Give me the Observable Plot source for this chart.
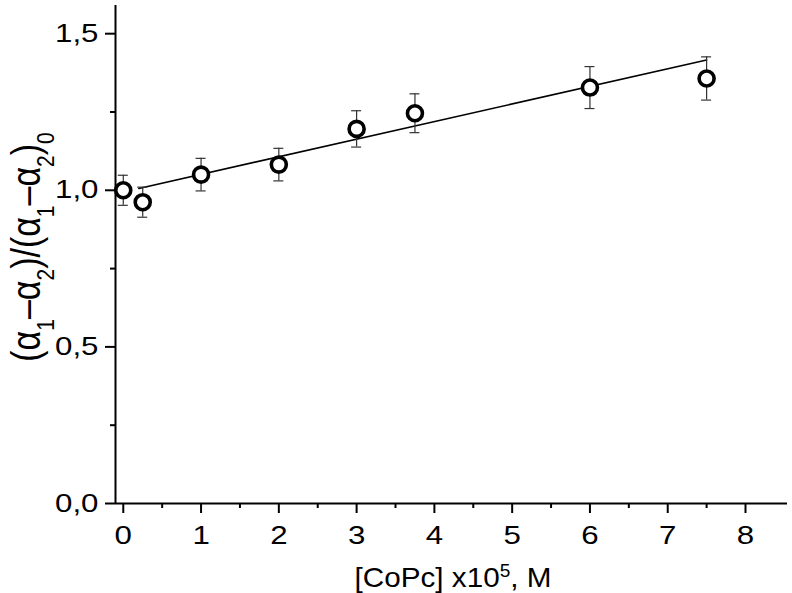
<!DOCTYPE html>
<html>
<head>
<meta charset="utf-8">
<script src="https://cdn.jsdelivr.net/npm/d3@7"></script>
<script src="https://cdn.jsdelivr.net/npm/@observablehq/plot@0.6"></script>
<style>
  html, body { margin: 0; padding: 0; background: #fff; }
  #chart svg { display: block; }
</style>
</head>
<body>
<div id="chart"></div>
<script>
// Data
const conc = [0, 0.25, 1, 2, 3, 3.75, 6, 7.5];           // [CoPc] x10^5, M
const ratio = [1.0, 0.962, 1.05, 1.082, 1.196, 1.246, 1.328, 1.357];
const err = [0.048, 0.048, 0.052, 0.052, 0.058, 0.062, 0.067, 0.069];
const fitX = [0.2, 7.5];
const fitY = [1.006, 1.416];
const xTicks = [0, 1, 2, 3, 4, 5, 6, 7, 8];
const xMinorTicks = [0.5, 1.5, 2.5, 3.5, 4.5, 5.5, 6.5, 7.5];
const yTicks = [0, 0.5, 1.0, 1.5];
const yMinorTicks = [0.25, 0.75, 1.25];

const pts = conc.map((x, i) => ({x, y: ratio[i], lo: ratio[i] - err[i], hi: ratio[i] + err[i]}));
const fit = fitX.map((x, i) => ({x, y: fitY[i]}));

const font = "'Liberation Sans', Arial, sans-serif";
const xDom = [-0.1, 8.54];
const yDom = [0, 1.59];

const plot = Plot.plot({
  width: 792,
  height: 593,
  marginLeft: 115,
  marginRight: 5,
  marginTop: 5,
  marginBottom: 90,
  style: {fontFamily: font, background: "#fff", color: "#000"},
  x: {type: "linear", domain: xDom},
  y: {type: "linear", domain: yDom},
  marks: [
    Plot.axisX(xMinorTicks, {tickSize: 5, strokeWidth: 2, text: null, label: null}),
    Plot.axisX(xTicks, {tickSize: 10, strokeWidth: 2, tickPadding: 13, fontSize: 25, label: null}),
    Plot.axisY(yMinorTicks, {tickSize: 5, strokeWidth: 2, text: null, label: null}),
    Plot.axisY(yTicks, {tickSize: 10, strokeWidth: 2, tickPadding: 7, fontSize: 25, label: null,
      tickFormat: d => d3.format(".1f")(d).replace(".", ",")}),
    Plot.ruleX([xDom[0]], {strokeWidth: 2}),
    Plot.ruleY([0], {strokeWidth: 2}),
    Plot.line(fit, {x: "x", y: "y", stroke: "#000", strokeWidth: 1.6}),
    Plot.ruleX(pts, {x: "x", y1: "lo", y2: "hi", stroke: "#333", strokeWidth: 1.2}),
    Plot.ruleY(pts, {x1: "x", x2: "x", y: "lo", insetLeft: -5, insetRight: -5, stroke: "#333", strokeWidth: 1.2}),
    Plot.ruleY(pts, {x1: "x", x2: "x", y: "hi", insetLeft: -5, insetRight: -5, stroke: "#333", strokeWidth: 1.2}),
    Plot.dot(pts, {x: "x", y: "y", r: 7.5, stroke: "#000", strokeWidth: 3.6, fill: "#fff"})
  ]
});

// stretch tick labels horizontally like the reference artwork
d3.select(plot).selectAll("text").each(function () {
  const t = this.getAttribute("transform");
  if (t) this.setAttribute("transform", t + " scale(1.25,1)");
});

const svg = d3.select(plot);
// y-axis title with subscripts
const yt = svg.append("text")
  .attr("transform", "translate(40,247) rotate(-90) scale(1,1.18)")
  .attr("text-anchor", "middle")
  .attr("font-family", font)
  .attr("font-size", 34)
  .attr("fill", "#000");
const parts = [["(α", 0], ["1", 1], ["–α", 0], ["2", 1], [")/(α", 0], ["1", 1], ["–α", 0], ["2", 1], [")", 0], ["0", 1]];
parts.forEach(([s, sub]) => {
  const ts = yt.append("tspan").text(s);
  if (sub) ts.attr("font-size", 21).attr("baseline-shift", "sub");
});

// x-axis title with superscript
const xt = svg.append("text")
  .attr("transform", "translate(453,587) scale(1.06,1)")
  .attr("text-anchor", "middle")
  .attr("font-family", font)
  .attr("font-size", 28)
  .attr("fill", "#000");
xt.append("tspan").text("[CoPc] x10");
xt.append("tspan").text("5").attr("font-size", 18).attr("baseline-shift", "super");
xt.append("tspan").text(", M");

document.getElementById("chart").appendChild(plot);
</script>
</body>
</html>
